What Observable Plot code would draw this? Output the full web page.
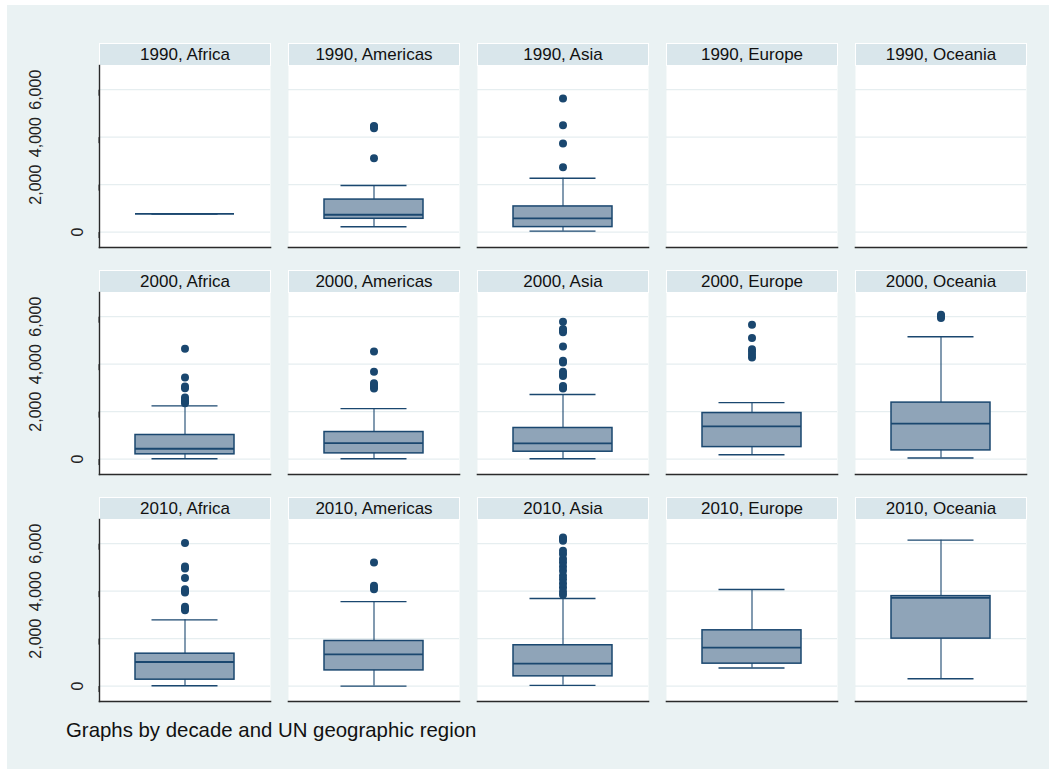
<!DOCTYPE html>
<html>
<head>
<meta charset="utf-8">
<script src="https://cdn.jsdelivr.net/npm/d3@7"></script>
<script src="https://cdn.jsdelivr.net/npm/@observablehq/plot@0.6"></script>
<style>
  html, body { margin: 0; padding: 0; background: #ffffff; }
  #chart {
    position: absolute; left: 7px; top: 5px; width: 1042px; height: 764px;
    background: #EAF2F3; font-family: "Liberation Sans", Arial, sans-serif;
  }
  #chart svg { display: block; }
  #note { position: absolute; left: 59px; top: 713px; font-size: 20.4px; line-height: 24px; color: #111; white-space: nowrap; }
</style>
</head>
<body>
<div id="chart"><div id="note">Graphs by decade and UN geographic region</div></div>
<script>
// Facet levels
const decades = ["1990", "2000", "2010"];
const regions = ["Africa", "Americas", "Asia", "Europe", "Oceania"];
const yTicks = [0, 2000, 4000, 6000];

// Box summaries, one per decade × region with data
const boxDecade = ["1990", "1990", "1990", "2000", "2000", "2000", "2000", "2000", "2010", "2010", "2010", "2010", "2010"];
const boxRegion = ["Africa", "Americas", "Asia", "Africa", "Americas", "Asia", "Europe", "Oceania", "Africa", "Americas", "Asia", "Europe", "Oceania"];
const whiskerLow  = [770, 225, 40, 15, 15, 15, 180, 45, 15, 0, 30, 760, 310];
const quartile1   = [770, 560, 210, 200, 240, 310, 505, 365, 270, 660, 410, 945, 2000];
const median      = [770, 730, 575, 435, 675, 665, 1380, 1490, 1015, 1340, 945, 1620, 3720];
const quartile3   = [770, 1370, 1080, 1015, 1140, 1310, 1940, 2380, 1365, 1900, 1720, 2350, 3790];
const whiskerHigh = [770, 1960, 2270, 2240, 2125, 2720, 2380, 5155, 2790, 3560, 3690, 4070, 6150];

// Outside values, same order as the boxes above
const outsideValues = [
  [],
  [3110, 4380, 4440, 4470],
  [2730, 3730, 4500, 5630],
  [2350, 2430, 2500, 2590, 2980, 3060, 3435, 4650],
  [2970, 3050, 3130, 3200, 3675, 4530],
  [2970, 3020, 3080, 3500, 3600, 3680, 4070, 4140, 4745, 5340, 5420, 5480, 5790],
  [4280, 4400, 4520, 4630, 5100, 5660],
  [5950, 6030, 6080],
  [3200, 3270, 3340, 3940, 4010, 4085, 4550, 4960, 5040, 6030],
  [4085, 4150, 4225, 5210],
  [3845, 3971, 4154, 4323, 4506, 4647, 4859, 5028, 5210, 5351, 5562, 5703, 6126, 6200, 6266],
  [],
  []
];

const boxes = boxDecade.map((decade, i) => ({
  decade, region: boxRegion[i],
  lo: whiskerLow[i], q1: quartile1[i], med: median[i], q3: quartile3[i], hi: whiskerHigh[i]
}));
const outside = boxes.flatMap((b, i) => outsideValues[i].map((value) => ({decade: b.decade, region: b.region, value})));
const panels = decades.flatMap((decade) => regions.map((region) => ({decade, region, label: `${decade}, ${region}`})));

// Layout
const W = 1042, H = 712, mL = 92, mR = 23, mT = 59, mB = 16;
const rowPad = 0.2;
const panelH = (H - mT - mB) / (decades.length - rowPad) * (1 - rowPad);
const stripH = 22;
const capInset = 16.5;

const navy = "#1A476F";
const boxFill = "#8FA4B8";
const stripFill = "#D9E6EB";
const fmt = d3.format(",");
// every mark sits in its decade × region panel, on a single band per panel
const facet = {fx: "region", fy: "decade", x: () => "box"};

const chart = Plot.plot({
  width: W, height: H,
  marginLeft: mL, marginRight: mR, marginTop: mT, marginBottom: mB,
  style: {fontFamily: "'Liberation Sans', Arial, sans-serif", background: "transparent", color: "#111", overflow: "visible"},
  fx: {domain: regions, paddingInner: 18 / 189, paddingOuter: 0, axis: null},
  fy: {domain: decades, paddingInner: rowPad, paddingOuter: 0, axis: null},
  x: {domain: ["box"], paddingInner: 0, paddingOuter: 0.3636, axis: null},
  y: {domain: [-650, 7020]},
  marks: [
    // panel background and header strip
    Plot.frame({fill: "white"}),
    Plot.frame({fill: stripFill, stroke: "white", strokeWidth: 1, insetTop: -stripH, insetBottom: panelH}),
    Plot.gridY({ticks: yTicks, stroke: "#E6EEF0", strokeOpacity: 1, strokeWidth: 1.2}),
    // whiskers
    Plot.ruleX(boxes, {...facet, y1: "lo", y2: "hi", stroke: navy, strokeWidth: 1.1}),
    Plot.tickY(boxes, {...facet, y: "lo", stroke: navy, strokeWidth: 1.4, insetLeft: capInset, insetRight: capInset}),
    Plot.tickY(boxes, {...facet, y: "hi", stroke: navy, strokeWidth: 1.4, insetLeft: capInset, insetRight: capInset}),
    // interquartile box and median
    Plot.barY(boxes, {...facet, y1: "q1", y2: "q3", fill: boxFill, stroke: navy, strokeWidth: 1.5}),
    Plot.tickY(boxes, {...facet, y: "med", stroke: navy, strokeWidth: 1.8}),
    // outside values
    Plot.dot(outside, {...facet, y: "value", r: 4, fill: navy, stroke: null}),
    // strip labels
    Plot.text(panels, {fx: "region", fy: "decade", text: "label", frameAnchor: "top", dy: -stripH / 2, lineAnchor: "middle", fontSize: 17, fill: "#111"}),
    // axis lines
    Plot.frame({anchor: "bottom", stroke: "#2a2a2a", strokeWidth: 1.6}),
    Plot.frame({anchor: "left", stroke: "#2a2a2a", strokeWidth: 1.4, facetAnchor: "left"}),
    Plot.axisY({ticks: [0], tickFormat: fmt, tickSize: 6, tickPadding: 11, rotate: -90, textAnchor: "middle", lineAnchor: "bottom", fontSize: 16, color: "#222", label: null, facetAnchor: "left"}),
    Plot.axisY({ticks: [2000, 4000, 6000], tickFormat: fmt, tickSize: 6, tickPadding: 53, rotate: -90, textAnchor: "middle", lineAnchor: "bottom", fontSize: 16, color: "#222", label: null, facetAnchor: "left"})
  ]
});

document.getElementById("chart").prepend(chart);
</script>
</body>
</html>
